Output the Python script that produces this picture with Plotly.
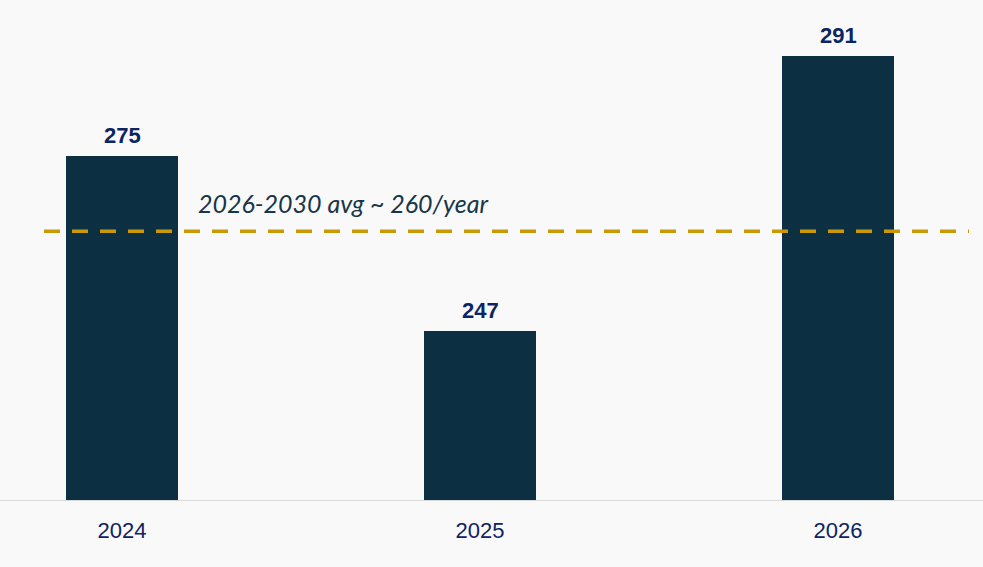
import plotly.graph_objects as go

years = ["2024", "2025", "2026"]
values = [275, 247, 291]
avg_value = 263
avg_label = "2026-2030 avg ~ 260/year"

bar_color = "#0c2f42"
label_color = "#0b2463"
line_color = "#c99a06"
bg = "#f9f9f9"

fig = go.Figure()
fig.add_trace(go.Bar(
    x=years, y=values, base=0, width=0.3128,
    marker=dict(color=bar_color, line=dict(width=0)),
    hoverinfo="skip",
))

for i, v in enumerate(values):
    fig.add_annotation(
        x=i, y=v, xref="x", yref="y", text=f"<b>{v}</b>", showarrow=False,
        yanchor="bottom", yshift=6,
        font=dict(family="Liberation Sans", size=22, color=label_color),
    )

fig.add_shape(
    type="line", xref="paper", yref="y", x0=44/983, x1=969/983,
    y0=avg_value, y1=avg_value,
    line=dict(color=line_color, width=3.5, dash="16px,12px"),
)
fig.add_annotation(
    xref="paper", yref="y", x=196/983, y=avg_value, text=f"<i>{avg_label}</i>",
    showarrow=False, xanchor="left", yanchor="middle", yshift=28,
    font=dict(family="Lato", size=25, color="#173649"),
)

fig.update_layout(
    width=983, height=567,
    margin=dict(l=0, r=0, t=0, b=67),
    paper_bgcolor=bg, plot_bgcolor=bg,
    showlegend=False,
    bargap=0,
    xaxis=dict(
        type="category", range=[-0.3408, 2.405],
        showgrid=False, zeroline=False,
        showline=True, linecolor="#d9d9d9", linewidth=1,
        ticks="", ticklabelstandoff=11,
        tickfont=dict(family="Liberation Sans", size=22, color=label_color),
    ),
    yaxis=dict(range=[220, 300], visible=False, showgrid=False, zeroline=False),
)

fig.write_html("out.html")
